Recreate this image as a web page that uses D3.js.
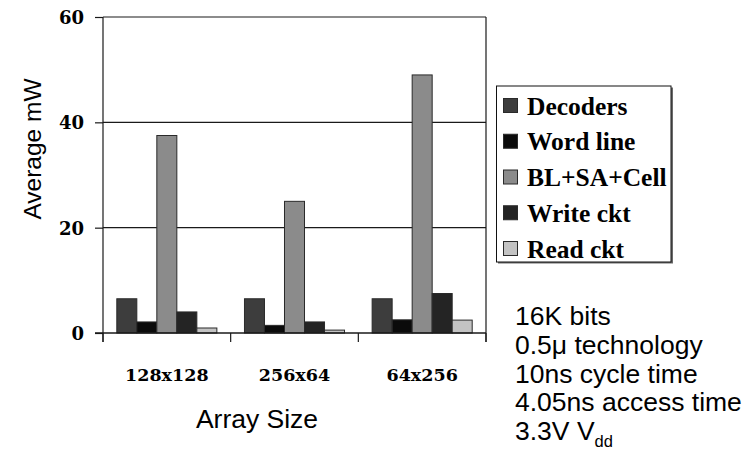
<!DOCTYPE html>
<html>
<head>
<meta charset="utf-8">
<script src="https://cdn.jsdelivr.net/npm/d3@7"></script>
<style>
  html, body { margin: 0; padding: 0; background: #fff; }
  svg { display: block; }
</style>
</head>
<body>
<svg id="chart" width="745" height="460"></svg>
<script>
// Average power per SRAM block for each array organisation
const categories = ["128x128", "256x64", "64x256"];
const seriesNames = ["Decoders", "Word line", "BL+SA+Cell", "Write ckt", "Read ckt"];
const decoders  = [6.5, 6.5, 6.5];
const wordLine  = [2.1, 1.45, 2.5];
const blSaCell  = [37.5, 25.0, 49.0];
const writeCkt  = [4.0, 2.1, 7.5];
const readCkt   = [0.95, 0.55, 2.45];
const yTicks    = [0, 20, 40, 60];
const notes     = ["16K bits", "0.5\u03bc technology", "10ns cycle time", "4.05ns access time"];
const vddNote   = { main: "3.3V V", sub: "dd" };

const seriesValues = [decoders, wordLine, blSaCell, writeCkt, readCkt];
const fills = ["#3d3d3d", "#0b0b0b", "#8b8b8b", "#242424", "#c3c3c3"];

const svg = d3.select("#chart");
const plot = { left: 103, right: 486, top: 17, bottom: 333 };

const x0 = d3.scaleBand().domain(categories).range([plot.left, plot.right]).padding(0);
const x1 = d3.scaleBand().domain(seriesNames).range([0, x0.bandwidth()])
  .paddingInner(0).paddingOuter(0.69);
const y = d3.scaleLinear().domain([0, 60]).range([plot.bottom, plot.top]);

const lineColor = "#1a1a1a";
const serifBold = "'DejaVu Serif', serif";
const sans = "'Liberation Sans', Arial, sans-serif";

// horizontal gridlines (20, 40, 60)
svg.append("g").selectAll("line")
  .data(yTicks.filter(d => d > 0))
  .join("line")
  .attr("x1", plot.left).attr("x2", plot.right)
  .attr("y1", d => y(d)).attr("y2", d => y(d))
  .attr("stroke", lineColor).attr("stroke-width", 1.2);

// right border
svg.append("line")
  .attr("x1", plot.right).attr("x2", plot.right)
  .attr("y1", plot.top).attr("y2", plot.bottom + 9)
  .attr("stroke", lineColor).attr("stroke-width", 1.2);

// bars
const groups = svg.append("g").selectAll("g")
  .data(categories)
  .join("g")
  .attr("transform", d => `translate(${x0(d)},0)`);

groups.selectAll("rect")
  .data((c, ci) => seriesNames.map((s, si) => ({ s, si, v: seriesValues[si][ci] })))
  .join("rect")
  .attr("x", d => x1(d.s))
  .attr("width", x1.bandwidth())
  .attr("y", d => y(d.v))
  .attr("height", d => y(0) - y(d.v))
  .attr("fill", d => fills[d.si])
  .attr("stroke", "#2a2a2a")
  .attr("stroke-width", 1);

// y axis
const yAxis = d3.axisLeft(y).tickValues(yTicks).tickSize(8).tickFormat(d3.format("d"));
const gy = svg.append("g").attr("transform", `translate(${plot.left},0)`).call(yAxis);
gy.select(".domain").attr("d", `M0,${plot.top}V${plot.bottom + 9}`)
  .attr("stroke", lineColor).attr("stroke-width", 1.2);
gy.selectAll(".tick line").attr("stroke", lineColor).attr("stroke-width", 1.2);
gy.selectAll(".tick text")
  .attr("x", -19).attr("dy", "0.36em")
  .attr("font-family", serifBold).attr("font-weight", "bold")
  .attr("font-size", 18).attr("fill", "#000");

// x axis at zero, with boundary ticks between categories
const boundaries = categories.map(c => x0(c)).concat([plot.right]);
svg.append("line")
  .attr("x1", plot.left - 8).attr("x2", plot.right)
  .attr("y1", y(0)).attr("y2", y(0))
  .attr("stroke", lineColor).attr("stroke-width", 1.4);
svg.append("g").selectAll("line")
  .data(boundaries)
  .join("line")
  .attr("x1", d => d).attr("x2", d => d)
  .attr("y1", y(0)).attr("y2", y(0) + 9)
  .attr("stroke", lineColor).attr("stroke-width", 1.2);

svg.append("g").selectAll("text")
  .data(categories)
  .join("text")
  .attr("x", d => x0(d) + x0.bandwidth() / 2)
  .attr("y", 381)
  .attr("text-anchor", "middle")
  .attr("font-family", serifBold).attr("font-weight", "bold")
  .attr("font-size", 17.5).attr("fill", "#000")
  .text(d => d);

// axis titles
svg.append("text")
  .attr("x", 257).attr("y", 428)
  .attr("text-anchor", "middle")
  .attr("font-family", sans).attr("font-size", 26.5).attr("fill", "#000")
  .text("Array Size");

svg.append("text")
  .attr("transform", "translate(41,149) rotate(-90)")
  .attr("text-anchor", "middle")
  .attr("font-family", sans).attr("font-size", 24.5).attr("fill", "#000")
  .text("Average mW");

// legend
const legend = svg.append("g");
legend.append("rect")
  .attr("x", 498).attr("y", 87.5).attr("width", 175).attr("height", 176)
  .attr("fill", "#6a6a6a");
legend.append("rect")
  .attr("x", 496.5).attr("y", 86).attr("width", 174.5).attr("height", 176)
  .attr("fill", "#fff").attr("stroke", "#111").attr("stroke-width", 1);

const legendRows = legend.selectAll("g.row")
  .data(seriesNames)
  .join("g")
  .attr("class", "row")
  .attr("transform", (d, i) => `translate(0,${105.5 + i * 35.75})`);
legendRows.append("rect")
  .attr("x", 503.5).attr("y", -7).attr("width", 14).attr("height", 14)
  .attr("fill", (d, i) => fills[i])
  .attr("stroke", "#2a2a2a").attr("stroke-width", 1);
legendRows.append("text")
  .attr("x", 527).attr("y", 9)
  .attr("font-family", "'Liberation Serif', 'Times New Roman', serif")
  .attr("font-weight", "bold").attr("font-size", 25.5).attr("fill", "#000")
  .text(d => d);

// technology notes
const noteText = svg.append("g")
  .attr("font-family", sans).attr("font-size", 26.5).attr("fill", "#000");
noteText.selectAll("text")
  .data(notes)
  .join("text")
  .attr("x", 515)
  .attr("y", (d, i) => 325 + i * 28.8)
  .text(d => d);
const vdd = noteText.append("text")
  .attr("x", 515).attr("y", 325 + notes.length * 28.8);
vdd.append("tspan").text(vddNote.main);
vdd.append("tspan").attr("dy", 7).attr("font-size", 16.5).text(vddNote.sub);
</script>
</body>
</html>
